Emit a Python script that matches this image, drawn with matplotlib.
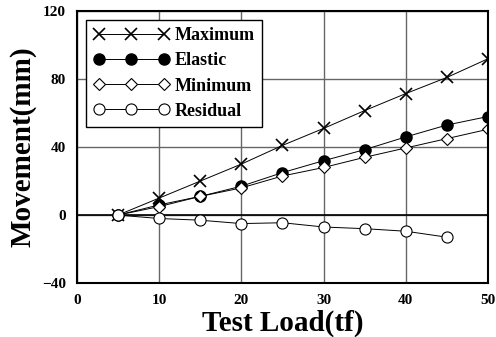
import matplotlib.pyplot as plt

# Test load steps (tf)
load = [5, 10, 15, 20, 25, 30, 35, 40, 45, 50]
maximum = [0, 10, 20, 30, 41, 51, 61.5, 71.5, 81, 92]
elastic = [0, 6, 11, 17, 25, 32, 38.5, 46, 53, 58]
minimum = [0, 5, 11, 16, 23, 28, 34, 39.5, 45, 50.5]
residual_load = [5, 10, 15, 20, 25, 30, 35, 40, 45]
residual = [0, -2, -3, -5, -4.5, -7, -8, -9.5, -13]

plt.rcParams['font.family'] = 'Liberation Serif'
plt.rcParams['font.weight'] = 'bold'

fig = plt.figure(figsize=(4.96, 3.37), dpi=100)
ax = fig.add_axes([0.155, 0.160, 0.829, 0.807])

line_kw = dict(color='black', linewidth=0.7)
ax.plot(load, maximum, marker='x', markersize=8, markeredgewidth=1.2,
        label='Maximum', **line_kw)
ax.plot(load, elastic, marker='o', markersize=8, markerfacecolor='black',
        label='Elastic', **line_kw)
ax.plot(load, minimum, marker='D', markersize=6, markerfacecolor='white',
        markeredgewidth=0.8, label='Minimum', **line_kw)
ax.plot(residual_load, residual, marker='o', markersize=8,
        markerfacecolor='white', markeredgewidth=0.8, label='Residual', **line_kw)

ax.set_xlim(0, 50)
ax.set_ylim(-40, 120)
ax.set_xticks([0, 10, 20, 30, 40, 50])
ax.set_yticks([-40, 0, 40, 80, 120])
ax.grid(True, color='#666666', linewidth=1.0)
ax.axhline(0, color='black', linewidth=1.2, zorder=1.5)
ax.set_axisbelow(True)
for s in ax.spines.values():
    s.set_linewidth(1.5)
ax.tick_params(length=0, labelsize=11, pad=8)
for lbl in ax.get_xticklabels() + ax.get_yticklabels():
    lbl.set_fontweight('bold')

ax.set_xlabel('Test Load(tf)', fontsize=21, fontweight='bold', labelpad=2)
ax.set_ylabel('Movement(mm)', fontsize=21, fontweight='bold', labelpad=4)

leg = ax.legend(loc='upper left', numpoints=3, fancybox=False, framealpha=1,
                edgecolor='black', prop={'size': 13, 'weight': 'bold'},
                handlelength=4.2, borderaxespad=0.5, labelspacing=0.45,
                handletextpad=0.3)
leg.get_frame().set_linewidth(1.0)

plt.savefig('out.png', dpi=100)
